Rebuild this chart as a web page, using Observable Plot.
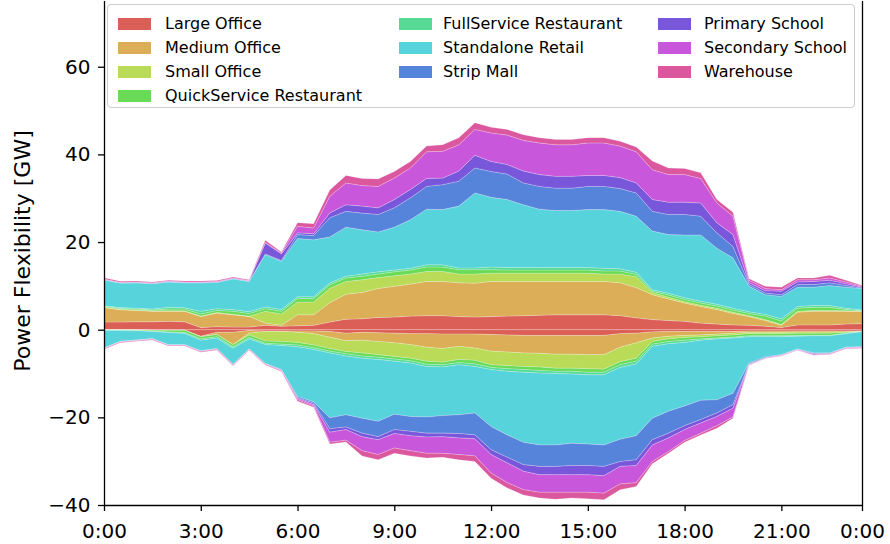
<!DOCTYPE html>
<html>
<head>
<meta charset="utf-8">
<script src="https://cdn.jsdelivr.net/npm/d3@7"></script>
<script src="https://cdn.jsdelivr.net/npm/@observablehq/plot@0.6"></script>
<style>
  html, body { margin: 0; padding: 0; background: #fff; }
  #wrap { position: relative; width: 890px; height: 544px; font-family: "DejaVu Sans", sans-serif; }
  #legend { position: absolute; left: 107px; top: 4px; width: 748px; height: 104px; box-sizing: border-box;
            border: 1px solid #cccccc; border-radius: 4px; background: rgba(255,255,255,0.8); }
  .sw { position: absolute; width: 33px; height: 12px; }
  .lt { position: absolute; font-size: 16px; line-height: 16px; color: #000; white-space: nowrap; }
</style>
</head>
<body>
<div id="wrap"></div>
<script>
// ---- categories ----
const names = ["Large Office","Medium Office","Small Office","QuickService Restaurant","FullService Restaurant",
               "Standalone Retail","Strip Mall","Primary School","Secondary School","Warehouse"];
const colors = ["#db5f57","#dbae57","#b9db57","#69db57","#57db94","#57d3db","#5784db","#7957db","#c957db","#db579e"];

// half-hour slots (index 0..47)
const slots = ["0:00","0:30","1:00","1:30","2:00","2:30","3:00","3:30","4:00","4:30","5:00","5:30",
               "6:00","6:30","7:00","7:30","8:00","8:30","9:00","9:30","10:00","10:30","11:00","11:30",
               "12:00","12:30","13:00","13:30","14:00","14:30","15:00","15:30","16:00","16:30","17:00","17:30",
               "18:00","18:30","19:00","19:30","20:00","20:30","21:00","21:30","22:00","22:30","23:00","23:30"];
const xTickIdx = [0, 6, 12, 18, 24, 30, 36, 42, 47];
const xTickLabels = ["0:00","3:00","6:00","9:00","12:00","15:00","18:00","21:00","0:00"];
const yTicks = [-40, -20, 0, 20, 40, 60];

// ---- upward flexibility (GW) ----
const largeP = [1.75,1.75,1.8,1.8,1.9,1.8,0.5,0.7,0.6,0.6, 1.0,0.8,0.9,1.0,1.75,2.4,2.5,2.8,2.9,3.1,
                3.2,3.2,3.0,2.9,3.0,3.1,3.2,3.3,3.4,3.4, 3.4,3.4,3.2,2.7,2.3,2.1,1.9,1.5,1.3,1.1, 1.0,0.8,0.5,1.1,1.1,1.1,1.3,1.4];
const mediumP = [3.3,2.8,2.6,2.4,2.3,2.4,2.5,3.1,2.8,2.4, 0.5,0.2,2.5,2.4,4.4,5.7,6.0,6.6,7.0,7.3,
                 7.8,7.8,7.7,7.7,8.0,7.9,7.8,7.7,7.6,7.6, 7.6,7.6,7.5,6.9,5.7,4.9,4.2,3.8,3.3,2.6, 2.0,1.3,0.5,2.9,3.1,3.1,2.9,2.8];
const smallP = [0.1,0.1,0.1,0.1,0.1,0.1,0.1,0.1,0.1,0.1, 2.7,2.6,2.9,2.9,3.3,2.9,2.9,2.5,2.4,2.3,
                2.3,2.3,2.0,2.1,1.9,1.9,1.9,1.9,1.9,1.9, 1.9,1.7,2.0,2.5,0.5,0.4,0.3,0.3,0.3,0.3, 0.2,0.2,0.2,0.2,0.2,0.2,0.1,0.0];
const quickP = [0.2,0.2,0.2,0.2,0.4,0.4,0.5,0.5,0.7,0.6, 0.6,0.6,0.8,0.8,0.8,0.8,0.8,0.8,0.9,0.9,
                1.0,1.0,1.0,1.0,0.8,0.7,0.7,0.7,0.7,0.7, 0.7,0.7,0.7,0.5,0.3,0.5,0.5,0.5,0.5,0.5, 0.5,0.8,0.8,0.7,0.7,0.7,0.3,0.1];
const fullP = [0.1,0.2,0.2,0.2,0.4,0.3,0.6,0.4,0.4,0.4, 0.4,0.4,0.4,0.4,0.4,0.4,0.5,0.5,0.4,0.4,
               0.5,0.5,0.4,0.4,0.6,0.6,0.6,0.6,0.6,0.6, 0.6,0.6,0.5,0.5,0.3,0.4,0.4,0.4,0.4,0.4, 0.4,0.4,0.5,0.4,0.4,0.4,0.3,0.2];
const retailP = [5.9,5.6,5.8,5.8,5.8,5.7,6.5,6.0,7.0,6.9, 11.9,11.0,13.3,13.0,10.5,11.2,10.1,9.1,9.8,11.1,
                 12.7,12.6,14.1,17.1,15.9,15.5,14.3,13.3,13.0,13.0, 13.2,13.4,13.1,12.8,13.4,13.4,14.3,15.1,12.8,11.5, 5.8,4.5,5.1,4.4,4.2,4.6,4.8,4.9];
const stripP = [0.05,0.05,0.05,0.05,0.05,0.05,0.05,0.05,0.05,0.05, 0.2,0.2,0.9,1.0,4.4,3.6,3.8,4.0,4.4,5.0,
                5.2,5.7,5.7,5.7,5.9,5.8,5.0,5.2,5.1,5.1, 5.3,5.3,5.2,5.3,4.5,4.6,4.7,4.3,3.5,2.6, 0.4,0.4,0.4,0.6,0.6,0.6,0.4,0.1];
const primaryP = [0.1,0.1,0.1,0.1,0.1,0.1,0.1,0.1,0.1,0.1, 2.5,1.5,0.4,0.4,1.1,1.5,1.6,1.5,1.9,1.9,
                  1.8,1.5,2.3,2.9,2.3,2.2,2.7,2.7,2.7,2.7, 2.5,2.5,2.5,2.3,2.7,2.8,2.8,3.0,2.3,2.7, 0.4,0.5,0.8,0.6,0.7,0.6,0.4,0.2];
const secondaryP = [0.05,0.05,0.05,0.05,0.05,0.05,0.05,0.05,0.05,0.05, 0.1,0.2,1.5,1.3,3.8,5.0,4.7,4.9,4.9,4.9,
                    6.1,6.1,6.0,5.9,6.5,6.7,7.0,7.2,7.2,7.2, 7.4,7.4,7.2,7.1,6.8,6.3,6.3,5.6,4.5,4.2, 0.6,0.5,0.3,0.5,0.4,0.5,0.4,0.2];
const warehouseP = [0.3,0.2,0.2,0.2,0.2,0.2,0.2,0.2,0.2,0.2, 0.5,0.2,0.8,1.0,1.4,1.7,1.6,1.7,1.5,1.5,
                    1.3,1.5,1.6,1.5,1.3,1.3,1.3,1.2,1.2,1.2, 1.2,1.2,1.1,1.1,2.0,1.5,1.4,1.3,0.8,0.9, 0.3,0.5,0.6,0.4,0.4,0.6,0.4,0.2];

// ---- downward flexibility (GW) ----
const largeN = [-0.02,-0.02,-0.02,-0.1,-0.1,-0.1,-1.5,-0.6,-0.6,-0.2, -0.3,-0.3,-0.3,-0.3,-0.4,-0.8,-0.6,-0.7,-0.8,-0.9,
                -0.9,-1.0,-1.0,-1.0,-1.1,-1.2,-1.3,-1.3,-1.3,-1.3, -1.3,-1.3,-0.9,-0.8,-0.5,-0.4,-0.4,-0.4,-0.4,-0.4, -0.3,-0.3,-0.3,-0.3,-0.3,-0.3,-0.3,-0.3];
const mediumN = [-0.02,-0.02,-0.02,-0.02,-0.02,-0.02,-0.1,-0.5,-2.8,-0.6, -0.1,-0.1,-0.3,-0.6,-1.3,-1.7,-1.8,-2.0,-2.2,-2.5,
                 -3.1,-3.3,-2.8,-3.2,-3.8,-3.9,-4.0,-4.1,-4.3,-4.3, -4.4,-4.4,-3.1,-2.2,-1.4,-1.1,-0.9,-0.8,-0.6,-0.4, -0.3,-0.3,-0.3,-0.2,-0.2,-0.2,-0.2,-0.1];
const smallN = [-0.02,-0.02,-0.02,-0.02,-0.02,-0.02,-0.02,-0.02,-0.02,-0.4, -2.2,-2.3,-2.3,-2.6,-2.6,-2.5,-2.9,-3.0,-3.1,-3.1,
                -3.2,-3.1,-3.0,-2.8,-3.1,-3.1,-3.1,-3.1,-3.2,-3.2, -3.2,-3.3,-3.3,-3.5,-0.8,-0.6,-0.5,-0.4,-0.4,-0.4, -0.3,-0.3,-0.3,-0.3,-0.3,-0.3,-0.1,-0.02];
const quickN = [-0.02,-0.02,-0.1,-0.2,-0.4,-0.5,-0.5,-0.5,-0.5,-0.6, -0.5,-0.6,-0.6,-0.6,-0.6,-0.5,-0.7,-0.6,-0.6,-0.6,
                -0.7,-0.6,-0.7,-0.8,-0.6,-0.7,-0.7,-0.8,-0.7,-0.7, -0.8,-0.7,-0.7,-0.7,-0.6,-0.6,-0.6,-0.5,-0.5,-0.5, -0.5,-0.5,-0.5,-0.5,-0.5,-0.5,-0.2,-0.02];
const fullN = [-0.1,-0.1,-0.1,-0.1,-0.1,-0.2,-0.3,-0.3,-0.3,-0.3, -0.3,-0.3,-0.4,-0.4,-0.4,-0.5,-0.5,-0.5,-0.5,-0.5,
               -0.5,-0.5,-0.5,-0.6,-0.5,-0.6,-0.6,-0.6,-0.5,-0.6, -0.6,-0.6,-0.6,-0.6,-0.5,-0.5,-0.5,-0.3,-0.2,-0.2, -0.2,-0.2,-0.2,-0.2,-0.1,-0.1,-0.1,-0.02];
const retailN = [-4.0,-2.5,-2.1,-1.6,-2.8,-2.6,-2.4,-2.4,-3.7,-2.3, -4.3,-5.5,-11.3,-12.0,-14.8,-13.4,-13.7,-14.1,-12.1,-12.2,
                 -11.5,-11.1,-11.4,-10.6,-13.0,-14.5,-16.0,-16.4,-16.3,-15.8, -15.8,-16.0,-16.4,-16.4,-16.4,-15.4,-14.5,-13.7,-13.9,-12.6, -6.0,-4.6,-4.1,-2.9,-3.9,-3.9,-3.1,-3.4];
const stripN = [-0.05,-0.05,-0.05,-0.05,-0.05,-0.05,-0.05,-0.05,-0.05,-0.05, -0.1,-0.1,-0.3,-0.3,-2.5,-2.8,-3.4,-3.5,-3.5,-3.4,
                -3.7,-4.0,-4.3,-5.0,-5.3,-5.1,-5.1,-4.9,-4.9,-5.1, -4.9,-4.9,-5.1,-5.5,-4.9,-5.0,-4.5,-4.4,-3.0,-2.6, -0.2,-0.2,-0.1,-0.1,-0.2,-0.1,-0.1,-0.1];
const primaryN = [-0.05,-0.05,-0.05,-0.05,-0.05,-0.05,-0.05,-0.05,-0.05,-0.05, -0.05,-0.05,-0.2,-0.3,-0.8,-0.6,-0.8,-0.7,-0.9,-1.0,
                  -0.9,-0.8,-1.0,-0.9,-1.1,-1.3,-1.5,-1.9,-1.9,-2.1, -2.1,-2.1,-1.1,-1.3,-1.2,-1.1,-0.9,-0.8,-0.8,-0.8, -0.1,-0.05,-0.05,-0.05,-0.05,-0.05,-0.05,-0.05];
const secondaryN = [-0.05,-0.05,-0.05,-0.05,-0.05,-0.05,-0.05,-0.05,-0.05,-0.05, -0.1,-0.1,-0.3,-0.3,-2.3,-2.4,-3.2,-3.4,-3.3,-3.4,
                    -3.7,-3.8,-3.8,-3.9,-4.2,-4.5,-4.2,-4.0,-4.0,-4.0, -4.0,-4.0,-4.0,-3.9,-3.8,-3.1,-2.5,-2.3,-2.1,-2.0, -0.1,-0.1,-0.1,-0.1,-0.2,-0.1,-0.1,-0.1];
const warehouseN = [-0.15,-0.15,-0.15,-0.15,-0.15,-0.15,-0.15,-0.15,-0.15,-0.15, -0.1,-0.2,-0.3,-0.3,-0.4,-0.4,-1.2,-1.2,-1.2,-1.2,
                    -1.1,-0.9,-1.2,-1.3,-1.2,-1.2,-1.2,-1.3,-1.6,-1.3, -1.5,-1.5,-1.3,-0.9,-0.5,-0.4,-0.4,-0.4,-0.6,-0.3, -0.1,-0.05,-0.05,-0.05,-0.1,-0.1,-0.1,-0.1];

const posSeries = [largeP, mediumP, smallP, quickP, fullP, retailP, stripP, primaryP, secondaryP, warehouseP];
const negSeries = [largeN, mediumN, smallN, quickN, fullN, retailN, stripN, primaryN, secondaryN, warehouseN];

function toRows(series) {
  const rows = [];
  series.forEach((arr, k) => arr.forEach((v, i) => rows.push({i, slot: slots[i], name: names[k], v})));
  return rows;
}
const posRows = toRows(posSeries);
const negRows = toRows(negSeries);

const fmtY = d => (d < 0 ? "\u2212" + (-d) : String(d));

const chart = Plot.plot({
  width: 890,
  height: 544,
  marginLeft: 104,
  marginRight: 28,
  marginTop: 1,
  marginBottom: 39,
  style: { fontFamily: "DejaVu Sans, sans-serif", fontSize: "20px", color: "#000", background: "#fff", overflow: "visible" },
  x: { type: "linear", domain: [0, 47] },
  y: { domain: [-40, 75] },
  color: { domain: names, range: colors },
  marks: [
    Plot.areaY(posRows, Plot.stackY({ x: "i", y: "v", fill: "name", order: names, stroke: "#ffffff", strokeWidth: 0.6, strokeOpacity: 0.35 })),
    Plot.areaY(negRows, Plot.stackY({ x: "i", y: "v", fill: "name", order: names, stroke: "#ffffff", strokeWidth: 0.6, strokeOpacity: 0.35 })),
    Plot.ruleX([0, 47], { stroke: "#000", strokeWidth: 1.3 }),
    Plot.ruleY([-40], { stroke: "#000", strokeWidth: 1.3 }),
    Plot.axisX({ ticks: xTickIdx, tickFormat: d => xTickLabels[xTickIdx.indexOf(d)], tickSize: 6, tickPadding: 12,
                 strokeWidth: 1.3, label: null, fontSize: 20 }),
    Plot.axisY({ ticks: yTicks, tickFormat: fmtY, tickSize: 6, tickPadding: 8, strokeWidth: 1.3, label: null, fontSize: 20 })
  ]
});

const wrap = document.getElementById("wrap");
wrap.appendChild(chart);

// y-axis title
d3.select(chart).append("text")
  .attr("transform", "translate(22,251) rotate(-90)")
  .attr("text-anchor", "middle")
  .attr("dominant-baseline", "central")
  .attr("font-family", "DejaVu Sans, sans-serif")
  .attr("font-size", 22)
  .attr("fill", "#000")
  .text("Power Flexibility [GW]");

// legend (inside the axes, upper area)
const legend = document.createElement("div");
legend.id = "legend";
wrap.appendChild(legend);
const swX = [10, 291, 550], txX = [57, 335, 596];
names.forEach((n, k) => {
  const col = k < 4 ? 0 : k < 7 ? 1 : 2;
  const row = k < 4 ? k : k < 7 ? k - 4 : k - 7;
  const cy = 19 + 24 * row;
  const sw = document.createElement("div");
  sw.className = "sw";
  sw.style.left = swX[col] + "px";
  sw.style.top = (cy - 6) + "px";
  sw.style.background = colors[k];
  legend.appendChild(sw);
  const t = document.createElement("div");
  t.className = "lt";
  t.style.left = txX[col] + "px";
  t.style.top = (cy - 8) + "px";
  t.textContent = n;
  legend.appendChild(t);
});
</script>
</body>
</html>
